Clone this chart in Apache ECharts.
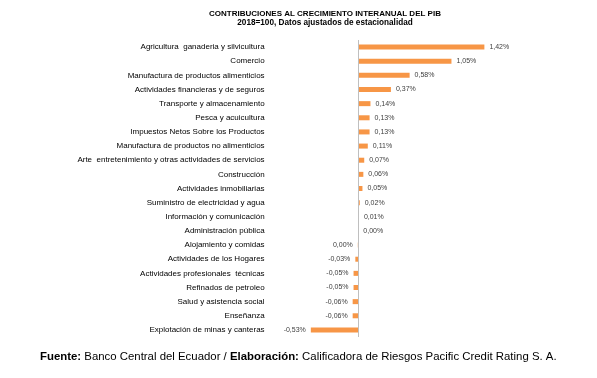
<!DOCTYPE html>
<html>
<head>
<meta charset="utf-8">
<script src="https://cdn.jsdelivr.net/npm/echarts@6/dist/echarts.min.js"></script>
<style>
html,body{margin:0;padding:0;background:#fff;}
#c{width:597px;height:378px;}
</style>
</head>
<body>
<div id="c"></div>
<script>
const categories = [
  "Agricultura  ganaderia y silvicultura",
  "Comercio",
  "Manufactura de productos alimenticios",
  "Actividades financieras y de seguros",
  "Transporte y almacenamiento",
  "Pesca y acuicultura",
  "Impuestos Netos Sobre los Productos",
  "Manufactura de productos no alimenticios",
  "Arte  entretenimiento y otras actividades de servicios",
  "Construcción",
  "Actividades inmobiliarias",
  "Suministro de electricidad y agua",
  "Información y comunicación",
  "Administración pública",
  "Alojamiento y comidas",
  "Actividades de los Hogares",
  "Actividades profesionales  técnicas",
  "Refinados de petroleo",
  "Salud y asistencia social",
  "Enseñanza",
  "Explotación de minas y canteras"
];
const values = [1.42, 1.05, 0.58, 0.37, 0.14, 0.13, 0.13, 0.11, 0.07, 0.06, 0.05, 0.02, 0.01, 0.004, -0.002, -0.03, -0.05, -0.05, -0.06, -0.06, -0.53];
const titleText = "CONTRIBUCIONES AL CRECIMIENTO INTERANUAL DEL PIB";
const subtitleText = "2018=100, Datos ajustados de estacionalidad";

function fmt(v){
  let s = v.toFixed(2);
  if (s === "-0.00") s = "0.00";
  return s.replace('.', ',') + '%';
}

const chart = echarts.init(document.getElementById('c'));
chart.setOption({
  animation: false,
  title: [{
    text: titleText,
    subtext: subtitleText,
    left: 320, top: 5, textAlign: 'center',
    itemGap: 1,
    textStyle: {fontFamily: 'Liberation Sans', fontSize: 8, fontWeight: 'bold', color: '#000'},
    subtextStyle: {fontFamily: 'Liberation Sans', fontSize: 8.2, fontWeight: 'bold', color: '#000'}
  }],
  graphic: [{
    type: 'text', left: 40, top: 351,
    style: {
      rich: {
        b: {fontFamily: 'Liberation Sans', fontSize: 11.4, fontWeight: 'bold', fill: '#000'},
        n: {fontFamily: 'Liberation Sans', fontSize: 11.4, fill: '#000'}
      },
      text: '{b|Fuente:}{n| Banco Central del Ecuador / }{b|Elaboración:}{n| Calificadora de Riesgos Pacific Credit Rating S. A.}'
    }
  }],
  grid: {left: 304.6, top: 40, width: 195.8, height: 297},
  xAxis: {type: 'value', min: -0.6, max: 1.6, show: false},
  yAxis: {
    type: 'category', data: categories, inverse: true,
    axisLine: {show: false}, axisTick: {show: false},
    axisLabel: {margin: 40, fontFamily: 'Liberation Sans', fontSize: 8, color: '#000'}
  },
  series: [{
    type: 'bar',
    data: values.map(v => ({
      value: v,
      label: {position: v < 0 ? 'left' : 'right'}
    })),
    barWidth: 5,
    itemStyle: {color: '#F79646'},
    label: {
      show: true, distance: 5,
      fontFamily: 'Liberation Sans', fontSize: 7, color: '#404040',
      formatter: p => fmt(p.value)
    },
    markLine: {
      silent: true, symbol: 'none', label: {show: false},
      lineStyle: {color: '#BFBFBF', type: 'solid', width: 1},
      data: [{xAxis: 0}]
    }
  }]
});
</script>
</body>
</html>
